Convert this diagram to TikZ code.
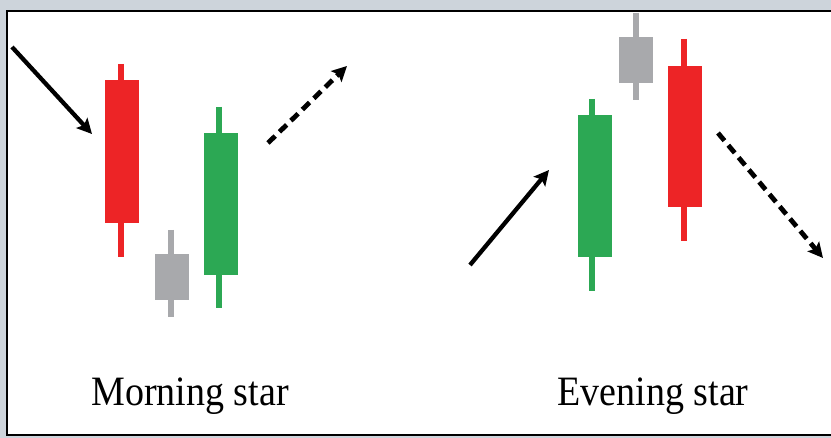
\documentclass[tikz,border=0pt]{standalone}
\usepackage{fontspec}
\setmainfont{Liberation Serif}
\usetikzlibrary{arrows.meta}
\definecolor{bgc}{RGB}{205,212,219}
\definecolor{cred}{RGB}{237,36,38}
\definecolor{cgreen}{RGB}{44,168,84}
\definecolor{cgray}{RGB}{168,169,172}
\tikzset{
  body/.style={rectangle, inner sep=0pt, minimum width=34pt},
  wick/.style={line width=6pt},
  solidarrow/.style={line width=4.3pt, -{Stealth[length=15pt,width=15pt,inset=3pt]}},
  dasharrow/.style={line width=4.8pt, dash pattern=on 10pt off 6pt, -{Stealth[length=15pt,width=15pt,inset=3pt]}},
  label/.style={font=\fontsize{38}{40}\selectfont, inner sep=0pt, anchor=base}
}
\begin{document}
\begin{tikzpicture}[x=1pt,y=-1pt]
\useasboundingbox (0,0) rectangle (831,438);
\fill[bgc] (0,0) rectangle (831,438);
\draw[line width=2.8pt, fill=white] (7,11) rectangle (845,435);
% Morning star
\draw[wick, cred] (121,64) -- (121,257);
\node[body, fill=cred, minimum height=143pt] (m1) at (122,151.5) {};
\draw[wick, cgray] (171,230) -- (171,317);
\node[body, fill=cgray, minimum height=46pt] (m2) at (172,277) {};
\draw[wick, cgreen] (219,107) -- (219,308);
\node[body, fill=cgreen, minimum height=142pt] (m3) at (220.5,204) {};
% Evening star
\draw[wick, cgreen] (592,99) -- (592,291);
\node[body, fill=cgreen, minimum height=142pt] (e1) at (594.5,186) {};
\draw[wick, cgray] (636,13) -- (636,100);
\node[body, fill=cgray, minimum height=46pt] (e2) at (636,60) {};
\draw[wick, cred] (684,39) -- (684,241);
\node[body, fill=cred, minimum height=141pt] (e3) at (685,136.5) {};
% Arrows
\coordinate (a1s) at (12,47); \coordinate (a1e) at (92,134);
\coordinate (a2s) at (268,143); \coordinate (a2e) at (347,66);
\coordinate (a3s) at (470,265); \coordinate (a3e) at (549,170);
\coordinate (a4s) at (718,133); \coordinate (a4e) at (823,258);
\draw[solidarrow] (a1s) -- (a1e);
\draw[dasharrow] (a2s) -- (a2e);
\draw[solidarrow] (a3s) -- (a3e);
\draw[dasharrow] (a4s) -- (a4e);
% Labels
\node[label] (lm) at (190,406) {\scalebox{1}[1.1]{Morning star}};
\node[label] (le) at (653,406) {\scalebox{1}[1.1]{Evening star}};
\end{tikzpicture}
\end{document}
